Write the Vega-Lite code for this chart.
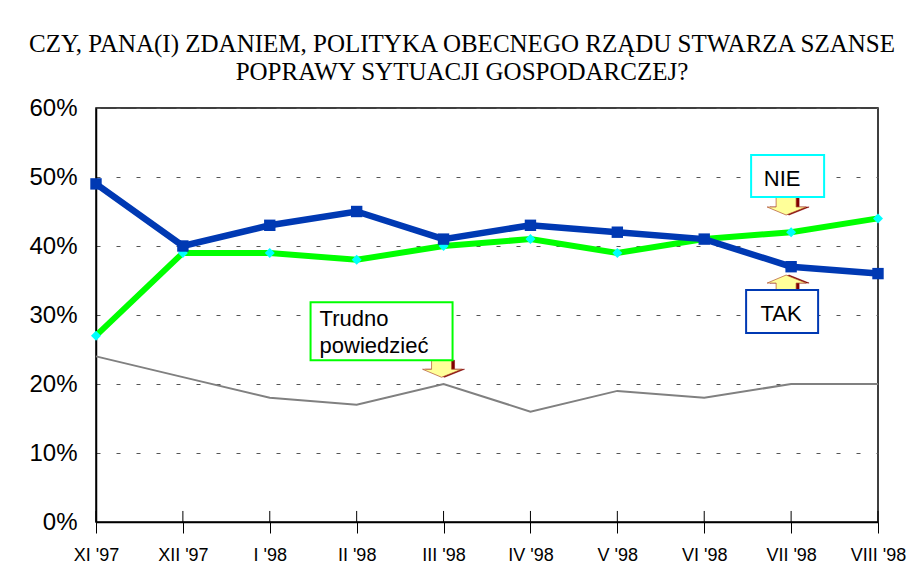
{
  "$schema": "https://vega.github.io/schema/vega-lite/v6.json",
  "width": 782,
  "height": 414,
  "autosize": "none",
  "padding": {"left": 96, "top": 108, "right": 44, "bottom": 57},
  "background": "white",
  "title": {
    "text": ["CZY, PANA(I) ZDANIEM, POLITYKA OBECNEGO RZĄDU STWARZA SZANSE", "POPRAWY SYTUACJI GOSPODARCZEJ?"],
    "font": "Liberation Serif",
    "fontSize": 25,
    "fontWeight": "normal",
    "color": "black",
    "anchor": "middle",
    "frame": "group",
    "offset": 11,
    "lineHeight": 28,
    "dx": -25
  },
  "config": {
    "view": {"stroke": "black", "strokeWidth": 1.5},
    "axisX": {
      "domainColor": "black", "domainWidth": 1.5,
      "tickColor": "black", "tickWidth": 1, "tickSize": 11,
      "labelFont": "Liberation Sans", "labelFontSize": 18, "labelColor": "black",
      "labelPadding": 13, "labelAngle": 0, "grid": false, "title": null
    },
    "axisY": {
      "domainColor": "black", "domainWidth": 1.5,
      "ticks": false, "tickSize": 0,
      "labelFont": "Liberation Sans", "labelFontSize": 24, "labelColor": "black",
      "labelPadding": 19,
      "grid": true, "gridColor": "#555555", "gridDash": [4, 16], "gridWidth": 1,
      "title": null
    }
  },
  "datasets": {
    "series": [
      {"month": "XI '97", "series": "TAK", "value": 49},
      {"month": "XII '97", "series": "TAK", "value": 40},
      {"month": "I '98", "series": "TAK", "value": 43},
      {"month": "II '98", "series": "TAK", "value": 45},
      {"month": "III '98", "series": "TAK", "value": 41},
      {"month": "IV '98", "series": "TAK", "value": 43},
      {"month": "V '98", "series": "TAK", "value": 42},
      {"month": "VI '98", "series": "TAK", "value": 41},
      {"month": "VII '98", "series": "TAK", "value": 37},
      {"month": "VIII '98", "series": "TAK", "value": 36},
      {"month": "XI '97", "series": "NIE", "value": 27},
      {"month": "XII '97", "series": "NIE", "value": 39},
      {"month": "I '98", "series": "NIE", "value": 39},
      {"month": "II '98", "series": "NIE", "value": 38},
      {"month": "III '98", "series": "NIE", "value": 40},
      {"month": "IV '98", "series": "NIE", "value": 41},
      {"month": "V '98", "series": "NIE", "value": 39},
      {"month": "VI '98", "series": "NIE", "value": 41},
      {"month": "VII '98", "series": "NIE", "value": 42},
      {"month": "VIII '98", "series": "NIE", "value": 44},
      {"month": "XI '97", "series": "Trudno powiedzieć", "value": 24},
      {"month": "XII '97", "series": "Trudno powiedzieć", "value": 21},
      {"month": "I '98", "series": "Trudno powiedzieć", "value": 18},
      {"month": "II '98", "series": "Trudno powiedzieć", "value": 17},
      {"month": "III '98", "series": "Trudno powiedzieć", "value": 20},
      {"month": "IV '98", "series": "Trudno powiedzieć", "value": 16},
      {"month": "V '98", "series": "Trudno powiedzieć", "value": 19},
      {"month": "VI '98", "series": "Trudno powiedzieć", "value": 18},
      {"month": "VII '98", "series": "Trudno powiedzieć", "value": 20},
      {"month": "VIII '98", "series": "Trudno powiedzieć", "value": 20}
    ],
    "notes": [
      {"id": "NIE", "month": "VII '98", "value": 50, "label": "NIE"},
      {"id": "TAK", "month": "VII '98", "value": 30.5, "label": "TAK"},
      {"id": "TP", "month": "III '98", "value": 27.5, "label": "Trudno\npowiedzieć"}
    ]
  },
  "encoding": {
    "x": {
      "field": "month", "type": "ordinal",
      "sort": ["XI '97", "XII '97", "I '98", "II '98", "III '98", "IV '98", "V '98", "VI '98", "VII '98", "VIII '98"],
      "scale": {"type": "point", "padding": 0}
    },
    "y": {
      "field": "value", "type": "quantitative",
      "scale": {"domain": [0, 60], "nice": false},
      "axis": {"values": [0, 10, 20, 30, 40, 50, 60], "labelExpr": "datum.value + '%'"}
    }
  },
  "layer": [
    {
      "data": {"name": "series"},
      "transform": [{"filter": "datum.series === 'TAK'"}],
      "mark": {"type": "rule", "color": "black", "strokeWidth": 1},
      "encoding": {"y": {"datum": 0}, "y2": {"datum": 1.6}}
    },
    {
      "data": {"name": "series"},
      "transform": [{"filter": "datum.series === 'Trudno powiedzieć'"}],
      "mark": {"type": "line", "color": "#808080", "strokeWidth": 2}
    },
    {
      "data": {"name": "series"},
      "transform": [{"filter": "datum.series === 'NIE'"}],
      "mark": {"type": "line", "color": "#00FF00", "strokeWidth": 6}
    },
    {
      "data": {"name": "series"},
      "transform": [{"filter": "datum.series === 'NIE'"}],
      "mark": {"type": "point", "shape": "diamond", "filled": true, "color": "#00FFFF", "size": 100, "opacity": 1}
    },
    {
      "data": {"name": "series"},
      "transform": [{"filter": "datum.series === 'TAK'"}],
      "mark": {"type": "line", "color": "#0039B3", "strokeWidth": 6.5}
    },
    {
      "data": {"name": "series"},
      "transform": [{"filter": "datum.series === 'TAK'"}],
      "mark": {"type": "point", "shape": "square", "filled": true, "color": "#0039B3", "size": 130, "opacity": 1}
    },
    {
      "data": {"name": "notes"},
      "transform": [{"filter": "datum.id === 'NIE'"}],
      "mark": {"type": "point", "shape": "M-1.2,2H0.8V3H1.8L-0.2,3.8L-2.1,3H-1.2Z", "size": 400, "filled": true, "fill": "#800000", "stroke": "#800000", "strokeWidth": 0.5, "opacity": 1}
    },
    {
      "data": {"name": "notes"},
      "transform": [{"filter": "datum.id === 'NIE'"}],
      "mark": {"type": "point", "shape": "M-1.5,2H0.5V3H1.5L-0.5,3.8L-2.4,3H-1.5Z", "size": 400, "filled": true, "fill": "#FFFF99", "stroke": "#B05030", "strokeWidth": 0.7, "opacity": 1}
    },
    {
      "data": {"name": "notes"},
      "transform": [{"filter": "datum.id === 'TAK'"}],
      "mark": {"type": "point", "shape": "M-1.2,-2.15H0.8V-2.85H1.8L-0.2,-3.65L-2.1,-2.85H-1.2Z", "size": 400, "filled": true, "fill": "#800000", "stroke": "#800000", "strokeWidth": 0.5, "opacity": 1}
    },
    {
      "data": {"name": "notes"},
      "transform": [{"filter": "datum.id === 'TAK'"}],
      "mark": {"type": "point", "shape": "M-1.5,-2.15H0.5V-2.85H1.5L-0.5,-3.65L-2.4,-2.85H-1.5Z", "size": 400, "filled": true, "fill": "#FFFF99", "stroke": "#B05030", "strokeWidth": 0.7, "opacity": 1}
    },
    {
      "data": {"name": "notes"},
      "transform": [{"filter": "datum.id === 'TP'"}],
      "mark": {"type": "point", "shape": "M-0.9,2.8H1.1V3.7H2.1L0.1,4.5L-1.8,3.7H-0.9Z", "size": 400, "filled": true, "fill": "#800000", "stroke": "#800000", "strokeWidth": 0.5, "opacity": 1}
    },
    {
      "data": {"name": "notes"},
      "transform": [{"filter": "datum.id === 'TP'"}],
      "mark": {"type": "point", "shape": "M-1.2,2.8H0.8V3.7H1.8L-0.2,4.5L-2.1,3.7H-1.2Z", "size": 400, "filled": true, "fill": "#FFFF99", "stroke": "#B05030", "strokeWidth": 0.7, "opacity": 1}
    },
    {
      "data": {"name": "notes"},
      "transform": [{"filter": "datum.id === 'NIE'"}],
      "mark": {"type": "point", "shape": "M-4,-2.2H3.3V2H-4Z", "size": 400, "filled": true, "fill": "white", "stroke": "#00FFFF", "strokeWidth": 2, "opacity": 1}
    },
    {
      "data": {"name": "notes"},
      "transform": [{"filter": "datum.id === 'TAK'"}],
      "mark": {"type": "point", "shape": "M-4.5,-2.15H2.7V2.15H-4.5Z", "size": 400, "filled": true, "fill": "white", "stroke": "#0039B3", "strokeWidth": 2, "opacity": 1}
    },
    {
      "data": {"name": "notes"},
      "transform": [{"filter": "datum.id === 'TP'"}],
      "mark": {"type": "point", "shape": "M-13.3,-3H0.9V2.8H-13.3Z", "size": 400, "filled": true, "fill": "white", "stroke": "#00FF00", "strokeWidth": 2, "opacity": 1}
    },
    {
      "data": {"name": "notes"},
      "transform": [{"filter": "datum.id === 'NIE'"}],
      "mark": {"type": "text", "font": "Liberation Sans", "fontSize": 22, "color": "black", "align": "center", "baseline": "middle", "dx": -9, "dy": 2},
      "encoding": {"text": {"field": "label"}}
    },
    {
      "data": {"name": "notes"},
      "transform": [{"filter": "datum.id === 'TAK'"}],
      "mark": {"type": "text", "font": "Liberation Sans", "fontSize": 22, "color": "black", "align": "center", "baseline": "middle", "dx": -10, "dy": 2},
      "encoding": {"text": {"field": "label"}}
    },
    {
      "data": {"name": "notes"},
      "transform": [{"filter": "datum.id === 'TP'"}],
      "mark": {"type": "text", "font": "Liberation Sans", "fontSize": 22, "color": "black", "align": "left", "baseline": "middle", "dx": -124, "dy": -13, "lineBreak": "\n", "lineHeight": 27},
      "encoding": {"text": {"field": "label"}}
    }
  ]
}
